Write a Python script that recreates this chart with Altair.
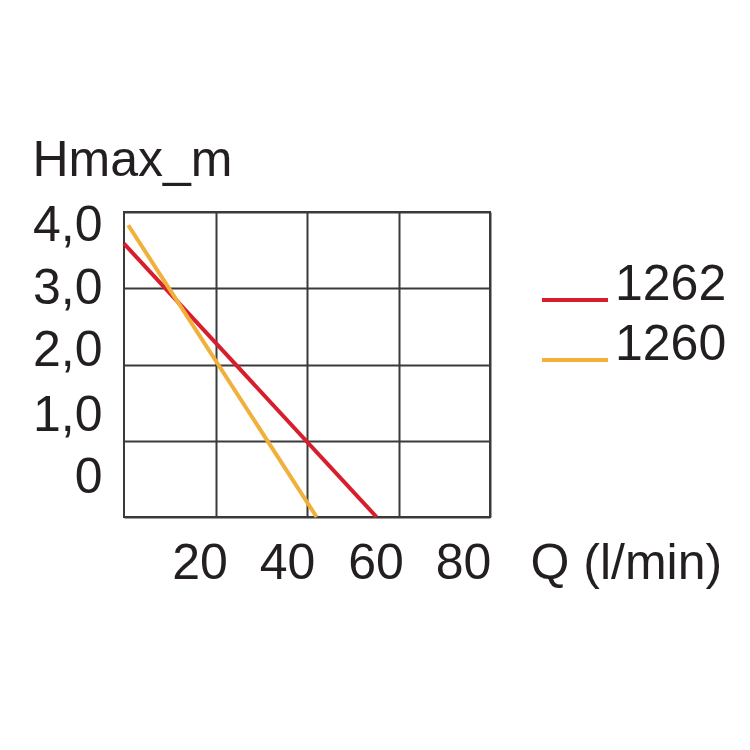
import altair as alt
import pandas as pd

# ---- data ----
models = ["1262", "1262", "1260", "1260"]
flow_l_min = [0.0, 55.2, 0.94, 42.1]
head_m = [3.585, 0.0, 3.826, 0.0]
series_order = ["1262", "1260"]
series_colors = ["#d81e2c", "#f0b03a"]
x_tick_values = [20, 40, 60, 80]
y_tick_values = [4, 3, 2, 1, 0]

df = pd.DataFrame({"model": models, "Q": flow_l_min, "H": head_m})

FONT = "Liberation Sans"
TXT = "#231f20"
GRID = "#3a3a3a"

x_axis = alt.Axis(
    values=x_tick_values,
    grid=True, gridColor=GRID, gridWidth=2,
    domain=False, ticks=False, tickSize=0,
    labelFont=FONT, labelFontSize=50, labelColor=TXT,
    labelAlign="center", labelBaseline="alphabetic", labelPadding=61,
    labelFlush=False, labelOverlap=False, labelBound=False,
    labelOffset={"condition": [
        {"test": "datum.value == 20", "value": -16},
        {"test": "datum.value == 40", "value": -20},
        {"test": "datum.value == 60", "value": -23},
        {"test": "datum.value == 80", "value": -27},
    ], "value": 0},
    title="Q (l/min)", titleFont=FONT, titleFontSize=50, titleFontWeight="normal",
    titleColor=TXT, titleAlign="left", titleBaseline="alphabetic",
    titleX=406, titleY=61, titleAngle=0,
)

y_axis = alt.Axis(
    values=y_tick_values,
    grid=True, gridColor=GRID, gridWidth=2,
    domain=False, ticks=False, tickSize=0,
    labelFont=FONT, labelFontSize=50, labelColor=TXT,
    labelAlign="right", labelBaseline="alphabetic", labelPadding=22,
    labelFlush=False, labelOverlap=False, labelBound=False,
    labelExpr="datum.value == 0 ? '0' : replace(format(datum.value, '.1f'), '.', ',')",
    labelOffset={"condition": [
        {"test": "datum.value == 4", "value": 28},
        {"test": "datum.value == 3", "value": 15},
        {"test": "datum.value == 2", "value": 1},
        {"test": "datum.value == 1", "value": -10},
    ], "value": -25},
    title="Hmax_m", titleFont=FONT, titleFontSize=50, titleFontWeight="normal",
    titleColor=TXT, titleAlign="left", titleBaseline="alphabetic",
    titleX=-92, titleY=-37, titleAngle=0,
)

legend = alt.Legend(
    orient="none", legendX=416, legendY=58, title=None,
    symbolType="stroke", symbolSize=66 * 66, symbolStrokeWidth=4,
    labelFont=FONT, labelFontSize=50, labelColor=TXT, labelOffset=5,
    labelBaseline="alphabetic", clipHeight=60, rowPadding=-10, padding=0,
)

chart = alt.Chart(df).mark_line(strokeWidth=4).encode(
    x=alt.X("Q:Q", scale=alt.Scale(domain=[0, 80], nice=False, zero=False), axis=x_axis),
    y=alt.Y("H:Q", scale=alt.Scale(domain=[0, 4], nice=False, zero=False), axis=y_axis),
    color=alt.Color("model:N", scale=alt.Scale(domain=series_order, range=series_colors),
                    sort=series_order, legend=legend),
).properties(
    width=366, height=305,
    autosize=alt.AutoSizeParams(type="none"),
    padding={"left": 116, "top": 204, "right": 250, "bottom": 110},
    background="white",
).configure_view(stroke=GRID, strokeWidth=2)

chart.save("out.html", embed_options={"renderer": "svg", "actions": False})
